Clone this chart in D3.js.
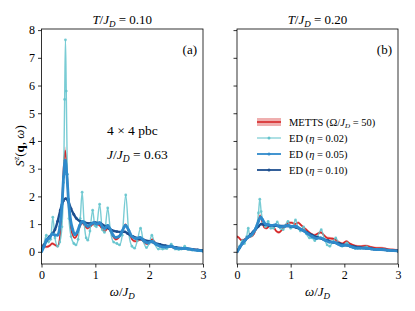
<!DOCTYPE html>
<html>
<head>
<meta charset="utf-8">
<script src="https://cdn.jsdelivr.net/npm/d3@7"></script>
<style>
  body { margin: 0; background: #fff; }
</style>
</head>
<body>
<div id="chart"></div>
<script>
// panel titles and tick labels
const titles = ["0.10", "0.20"];
const panelTags = ["(a)", "(b)"];
const xTicks = [0, 1, 2, 3];
const yTicks = [0, 1, 2, 3, 4, 5, 6, 7, 8];

// METTS (omega, S, error) - panel a
const mettsA = [
  [0.00,0.25,0.05],[0.05,0.20,0.05],[0.10,0.18,0.05],[0.15,0.22,0.05],[0.20,0.30,0.05],
  [0.25,0.25,0.05],[0.30,0.20,0.05],[0.34,0.50,0.08],[0.38,1.60,0.12],[0.41,3.00,0.15],
  [0.44,3.65,0.15],[0.47,3.00,0.15],[0.50,1.80,0.12],[0.54,0.90,0.08],[0.58,0.60,0.06],
  [0.62,0.50,0.05],[0.66,0.60,0.05],[0.71,0.90,0.05],[0.76,1.05,0.06],[0.80,0.95,0.05],
  [0.85,0.85,0.05],[0.90,0.90,0.05],[0.96,1.00,0.05],[1.02,1.00,0.05],[1.08,0.95,0.05],
  [1.14,0.80,0.05],[1.18,0.75,0.05],[1.23,0.85,0.05],[1.28,0.75,0.05],[1.33,0.55,0.05],
  [1.38,0.45,0.05],[1.43,0.50,0.05],[1.50,0.75,0.05],[1.56,0.98,0.06],[1.62,0.75,0.05],
  [1.68,0.45,0.05],[1.74,0.38,0.05],[1.80,0.42,0.05],[1.85,0.45,0.05],[1.90,0.35,0.05],
  [1.96,0.28,0.04],[2.02,0.38,0.04],[2.06,0.45,0.04],[2.12,0.30,0.04],[2.20,0.22,0.04],
  [2.30,0.18,0.04],[2.40,0.20,0.04],[2.45,0.15,0.04],[2.55,0.12,0.04],[2.65,0.13,0.04],
  [2.75,0.10,0.04],[2.85,0.08,0.04],[3.00,0.05,0.04]
];

// ED eta = 0.02 - panel a
const ed002A = [
  [0.00,0.05],[0.04,0.25],[0.09,0.60],[0.13,0.35],[0.17,0.45],[0.21,1.25],[0.25,0.50],
  [0.30,0.20],[0.34,0.35],[0.38,0.90],[0.41,2.50],[0.43,5.50],[0.445,7.65],[0.46,5.80],
  [0.48,2.80],[0.51,1.20],[0.55,0.55],[0.60,0.30],[0.64,0.25],[0.68,0.45],[0.72,1.20],
  [0.755,2.15],[0.79,1.10],[0.83,0.50],[0.86,0.42],[0.90,0.75],[0.95,1.50],[0.99,0.95],
  [1.02,0.90],[1.08,1.72],[1.13,0.80],[1.17,0.70],[1.23,1.58],[1.28,0.75],[1.34,0.35],
  [1.40,0.30],[1.45,0.25],[1.50,0.60],[1.565,2.05],[1.62,0.70],[1.68,0.20],[1.73,0.13],
  [1.78,0.40],[1.84,0.85],[1.89,0.40],[1.95,0.15],[2.00,0.30],[2.05,0.60],[2.10,0.30],
  [2.17,0.10],[2.25,0.10],[2.33,0.12],[2.41,0.28],[2.48,0.10],[2.55,0.08],[2.60,0.10],
  [2.66,0.20],[2.72,0.08],[2.80,0.06],[2.90,0.04],[3.00,0.02]
];

// ED eta = 0.05 - panel a
const ed005A = [
  [0.00,0.00],[0.05,0.20],[0.10,0.45],[0.15,0.50],[0.20,0.65],[0.25,0.60],[0.30,0.60],
  [0.34,0.90],[0.38,1.70],[0.41,2.70],[0.44,3.30],[0.47,2.80],[0.50,1.90],[0.54,1.15],
  [0.58,0.80],[0.62,0.62],[0.66,0.70],[0.71,0.95],[0.76,1.10],[0.81,1.00],[0.86,0.92],
  [0.92,1.00],[0.97,1.05],[1.03,1.00],[1.08,1.05],[1.13,0.90],[1.18,0.85],[1.23,0.95],
  [1.28,0.80],[1.33,0.60],[1.38,0.52],[1.44,0.55],[1.50,0.75],[1.56,0.95],[1.62,0.78],
  [1.68,0.55],[1.75,0.48],[1.83,0.52],[1.90,0.40],[1.97,0.32],[2.05,0.38],[2.12,0.28],
  [2.20,0.20],[2.30,0.17],[2.40,0.20],[2.50,0.13],[2.60,0.12],[2.70,0.12],[2.80,0.08],
  [2.90,0.05],[3.00,0.03]
];

// ED eta = 0.10 - panel a
const ed010A = [
  [0.00,0.10],[0.05,0.25],[0.10,0.42],[0.15,0.55],[0.20,0.65],[0.25,0.80],[0.30,1.10],
  [0.35,1.50],[0.40,1.82],[0.45,1.92],[0.50,1.80],[0.55,1.55],[0.60,1.35],[0.65,1.20],
  [0.72,1.10],[0.80,1.05],[0.90,1.02],[1.00,1.05],[1.10,1.02],[1.20,0.90],[1.30,0.78],
  [1.40,0.73],[1.50,0.72],[1.55,0.72],[1.60,0.66],[1.65,0.60],[1.70,0.55],[1.80,0.48],
  [1.90,0.43],[2.00,0.38],[2.10,0.32],[2.20,0.27],[2.30,0.22],[2.40,0.19],[2.50,0.16],
  [2.60,0.13],[2.70,0.11],[2.80,0.09],[2.90,0.07],[3.00,0.05]
];

// METTS (omega, S, error) - panel b
const mettsB = [
  [0.00,0.55,0.05],[0.04,0.50,0.05],[0.08,0.42,0.05],[0.12,0.42,0.05],[0.18,0.50,0.05],
  [0.25,0.55,0.05],[0.30,0.60,0.05],[0.35,0.80,0.06],[0.40,1.15,0.07],[0.43,1.30,0.08],
  [0.46,1.15,0.07],[0.50,0.90,0.06],[0.55,0.85,0.05],[0.62,0.95,0.05],[0.68,0.90,0.05],
  [0.73,0.75,0.05],[0.78,0.70,0.05],[0.84,0.80,0.05],[0.90,0.95,0.05],[0.96,1.05,0.05],
  [1.02,1.05,0.05],[1.08,1.00,0.05],[1.14,1.05,0.05],[1.20,0.95,0.05],[1.26,0.85,0.05],
  [1.32,0.75,0.05],[1.38,0.65,0.05],[1.44,0.60,0.05],[1.50,0.65,0.05],[1.56,0.70,0.05],
  [1.62,0.60,0.05],[1.68,0.50,0.05],[1.75,0.48,0.05],[1.82,0.45,0.05],[1.90,0.35,0.04],
  [1.96,0.30,0.04],[2.04,0.38,0.04],[2.10,0.30,0.04],[2.20,0.22,0.04],[2.30,0.20,0.04],
  [2.40,0.22,0.04],[2.50,0.17,0.04],[2.60,0.14,0.04],[2.70,0.14,0.04],[2.80,0.10,0.04],
  [2.90,0.08,0.04],[3.00,0.06,0.04]
];

// ED eta = 0.02 - panel b
const ed002B = [
  [0.00,0.00],[0.05,0.20],[0.10,0.40],[0.14,0.30],[0.18,0.55],[0.21,0.85],[0.24,0.55],
  [0.28,0.60],[0.33,0.75],[0.37,0.95],[0.40,1.40],[0.425,1.90],[0.45,1.45],[0.49,1.05],
  [0.53,0.90],[0.58,1.10],[0.63,0.85],[0.68,0.85],[0.75,1.08],[0.81,0.85],[0.86,0.80],
  [0.95,1.10],[1.00,0.85],[1.04,0.90],[1.09,1.15],[1.14,0.85],[1.18,0.75],[1.24,0.90],
  [1.29,0.65],[1.35,0.50],[1.40,0.50],[1.45,0.40],[1.50,0.55],[1.57,0.80],[1.63,0.45],
  [1.68,0.25],[1.73,0.20],[1.78,0.35],[1.84,0.50],[1.90,0.30],[1.96,0.20],[2.05,0.32],
  [2.12,0.18],[2.20,0.12],[2.30,0.12],[2.41,0.18],[2.50,0.10],[2.60,0.08],[2.70,0.10],
  [2.80,0.05],[2.90,0.04],[3.00,0.02]
];

// ED eta = 0.05 - panel b
const ed005B = [
  [0.00,0.00],[0.05,0.15],[0.10,0.30],[0.15,0.42],[0.20,0.52],[0.25,0.58],[0.30,0.68],
  [0.35,0.85],[0.40,1.10],[0.44,1.25],[0.48,1.15],[0.53,1.00],[0.58,0.98],[0.65,0.95],
  [0.72,0.97],[0.80,0.90],[0.88,0.92],[0.95,0.95],[1.02,0.92],[1.10,0.92],[1.18,0.82],
  [1.25,0.75],[1.32,0.65],[1.40,0.55],[1.48,0.48],[1.56,0.50],[1.64,0.42],[1.72,0.35],
  [1.80,0.35],[1.88,0.28],[1.96,0.22],[2.05,0.24],[2.15,0.17],[2.25,0.13],[2.35,0.13],
  [2.45,0.12],[2.55,0.09],[2.65,0.08],[2.75,0.07],[2.85,0.05],[3.00,0.03]
];

// ED eta = 0.10 - panel b
const ed010B = [
  [0.00,0.00],[0.05,0.15],[0.10,0.30],[0.15,0.42],[0.20,0.52],[0.25,0.62],[0.30,0.72],
  [0.35,0.82],[0.40,0.92],[0.45,1.00],[0.50,0.98],[0.60,0.95],[0.70,0.94],[0.80,0.93],
  [0.90,0.93],[1.00,0.92],[1.10,0.88],[1.20,0.80],[1.30,0.70],[1.40,0.60],[1.50,0.52],
  [1.60,0.46],[1.70,0.40],[1.80,0.34],[1.90,0.30],[2.00,0.25],[2.10,0.21],[2.20,0.18],
  [2.30,0.15],[2.40,0.13],[2.50,0.11],[2.60,0.09],[2.70,0.08],[2.80,0.06],[2.90,0.05],
  [3.00,0.03]
];

const panels = [
  { metts: mettsA, ed: [ed002A, ed005A, ed010A] },
  { metts: mettsB, ed: [ed002B, ed005B, ed010B] }
];

// styles
const fontName = "Liberation Serif";
const red = "#d62728";
const redFill = "#e47a7a";
const edColors = ["#62c3cc", "#2f8acb", "#1d4f8f"];
const edWidths = [1.4, 2.8, 2.4];
const edOpacity = [0.85, 1, 1];
const drawOrder = [0, 2, 1]; // medium blue ends up on top of dark blue

const width = 415, height = 311;
const plotTop = 29, plotBottom = 264;
const panelX = [[41.5, 203], [237, 398]];

const svg = d3.select("#chart").append("svg")
  .attr("width", width)
  .attr("height", height);

const y = d3.scaleLinear().domain([-0.44, 8.04]).range([plotBottom, plotTop]);

panels.forEach((p, k) => {
  const x = d3.scaleLinear().domain([0, 3]).range(panelX[k]);
  const g = svg.append("g");

  const clipId = "clip" + k;
  g.append("clipPath").attr("id", clipId)
    .append("rect")
    .attr("x", panelX[k][0]).attr("y", plotTop)
    .attr("width", panelX[k][1] - panelX[k][0]).attr("height", plotBottom - plotTop);

  const plot = g.append("g").attr("clip-path", `url(#${clipId})`);

  // METTS band + line
  const area = d3.area()
    .x(d => x(d[0]))
    .y0(d => y(d[1] - d[2]))
    .y1(d => y(d[1] + d[2]))
    .curve(d3.curveMonotoneX);
  plot.append("path")
    .attr("d", area(p.metts))
    .attr("fill", redFill)
    .attr("opacity", 0.6);

  const line = d3.line()
    .x(d => x(d[0]))
    .y(d => y(d[1]))
    .curve(d3.curveMonotoneX);
  plot.append("path")
    .attr("d", line(p.metts))
    .attr("fill", "none")
    .attr("stroke", red)
    .attr("stroke-width", 1.6);

  // ED curves with small dots
  drawOrder.forEach(i => {
    const s = p.ed[i];
    plot.append("path")
      .attr("d", line(s))
      .attr("fill", "none")
      .attr("stroke", edColors[i])
      .attr("stroke-width", edWidths[i])
      .attr("opacity", edOpacity[i])
      .attr("stroke-linejoin", "round");
    plot.selectAll(null)
      .data(s)
      .enter().append("circle")
      .attr("cx", d => x(d[0]))
      .attr("cy", d => y(d[1]))
      .attr("r", 1.4)
      .attr("fill", edColors[i])
      .attr("opacity", edOpacity[i]);
  });

  // frame
  g.append("rect")
    .attr("x", panelX[k][0]).attr("y", plotTop)
    .attr("width", panelX[k][1] - panelX[k][0]).attr("height", plotBottom - plotTop)
    .attr("fill", "none")
    .attr("stroke", "#000")
    .attr("stroke-width", 0.8);

  // axes
  const xAxis = g.append("g")
    .attr("transform", `translate(0,${plotBottom})`)
    .call(d3.axisBottom(x).tickValues(xTicks).tickSize(3.5).tickPadding(3).tickFormat(d3.format("d")));
  const yAxis = g.append("g")
    .attr("transform", `translate(${panelX[k][0]},0)`)
    .call(d3.axisLeft(y).tickValues(yTicks).tickSize(3.5).tickPadding(3)
      .tickFormat(k === 0 ? d3.format("d") : ""));
  [xAxis, yAxis].forEach(a => {
    a.attr("font-family", fontName).attr("font-size", 12);
    a.select(".domain").remove();
    a.selectAll(".tick line").attr("stroke-width", 0.8);
  });

  // title
  const cx = (panelX[k][0] + panelX[k][1]) / 2;
  const t = g.append("text")
    .attr("x", cx).attr("y", 24)
    .attr("text-anchor", "middle")
    .attr("font-family", fontName)
    .attr("font-size", 13);
  t.append("tspan").attr("font-style", "italic").text("T");
  t.append("tspan").text("/");
  t.append("tspan").attr("font-style", "italic").text("J");
  t.append("tspan").attr("font-style", "italic").attr("font-size", 9).attr("dy", 3).text("D");
  t.append("tspan").attr("dy", -3).text(" = " + titles[k]);

  // x label
  const xl = g.append("text")
    .attr("x", cx).attr("y", 296)
    .attr("text-anchor", "middle")
    .attr("font-family", fontName)
    .attr("font-size", 13);
  xl.append("tspan").attr("font-style", "italic").text("ω");
  xl.append("tspan").text("/");
  xl.append("tspan").attr("font-style", "italic").text("J");
  xl.append("tspan").attr("font-style", "italic").attr("font-size", 9).attr("dy", 3).text("D");

  // panel tag
  g.append("text")
    .attr("x", panelX[k][1] - 6).attr("y", 54)
    .attr("text-anchor", "end")
    .attr("font-family", fontName)
    .attr("font-size", 13)
    .text(panelTags[k]);
});

// y label
const yl = svg.append("text")
  .attr("transform", "translate(24,146) rotate(-90)")
  .attr("text-anchor", "middle")
  .attr("font-family", fontName)
  .attr("font-size", 13);
yl.append("tspan").attr("font-style", "italic").text("S");
yl.append("tspan").attr("font-style", "italic").attr("font-size", 9).attr("dy", -5).text("z");
yl.append("tspan").attr("dy", 5).text("(");
yl.append("tspan").attr("font-weight", "bold").text("q");
yl.append("tspan").text(", ");
yl.append("tspan").attr("font-style", "italic").text("ω");
yl.append("tspan").text(")");

// annotations in panel a
svg.append("text")
  .attr("x", 107).attr("y", 135)
  .attr("font-family", fontName)
  .attr("font-size", 13.5)
  .text("4 × 4 pbc");
const ja = svg.append("text")
  .attr("x", 107).attr("y", 159)
  .attr("font-family", fontName)
  .attr("font-size", 13.5);
ja.append("tspan").attr("font-style", "italic").text("J");
ja.append("tspan").text("/");
ja.append("tspan").attr("font-style", "italic").text("J");
ja.append("tspan").attr("font-style", "italic").attr("font-size", 9.5).attr("dy", 3).text("D");
ja.append("tspan").attr("dy", -3).text(" = 0.63");

// legend
const legendRows = [122, 138, 154, 170];
const lx0 = 257, lx1 = 281, ltx = 289;
const legend = svg.append("g");

legend.append("rect")
  .attr("x", lx0).attr("y", legendRows[0] - 4)
  .attr("width", lx1 - lx0).attr("height", 8)
  .attr("fill", redFill).attr("opacity", 0.6);
legend.append("line")
  .attr("x1", lx0).attr("x2", lx1)
  .attr("y1", legendRows[0]).attr("y2", legendRows[0])
  .attr("stroke", red).attr("stroke-width", 1.6);

edColors.forEach((c, i) => {
  const yy = legendRows[i + 1];
  legend.append("line")
    .attr("x1", lx0).attr("x2", lx1)
    .attr("y1", yy).attr("y2", yy)
    .attr("stroke", c)
    .attr("stroke-width", i === 0 ? 1.2 : 1.8)
    .attr("opacity", edOpacity[i]);
  legend.append("circle")
    .attr("cx", (lx0 + lx1) / 2).attr("cy", yy)
    .attr("r", 1.5).attr("fill", c);
});

const lt0 = legend.append("text").attr("x", ltx).attr("y", legendRows[0] + 3.5)
  .attr("font-family", fontName).attr("font-size", 10.5);
lt0.append("tspan").text("METTS (Ω/");
lt0.append("tspan").attr("font-style", "italic").text("J");
lt0.append("tspan").attr("font-style", "italic").attr("font-size", 7).attr("dy", 2).text("D");
lt0.append("tspan").attr("dy", -2).text(" = 50)");

const etas = ["0.02", "0.05", "0.10"];
etas.forEach((e, i) => {
  const lt = legend.append("text").attr("x", ltx).attr("y", legendRows[i + 1] + 3.5)
    .attr("font-family", fontName).attr("font-size", 10.5);
  lt.append("tspan").text("ED (");
  lt.append("tspan").attr("font-style", "italic").text("η");
  lt.append("tspan").text(" = " + e + ")");
});
</script>
</body>
</html>
